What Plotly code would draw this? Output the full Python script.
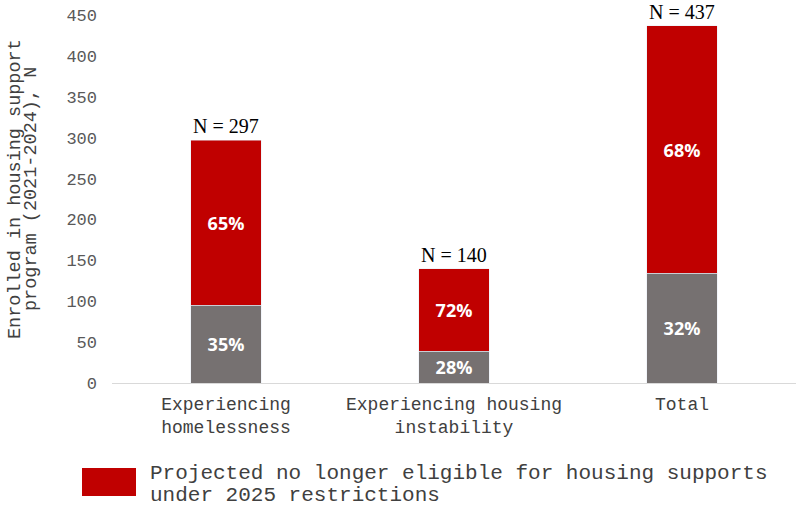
import plotly.graph_objects as go

categories = ["Experiencing homelessness", "Experiencing housing instability", "Total"]
tick_labels = ["Experiencing<br>homelessness", "Experiencing housing<br>instability", "Total"]
eligible = [95, 39, 134]          # grey segment (remaining eligible)
not_eligible = [202, 101, 303]    # red segment
totals = [297, 140, 437]
eligible_pct = ["35%", "28%", "32%"]
not_eligible_pct = ["65%", "72%", "68%"]
total_labels = ["N = 297", "N = 140", "N = 437"]
y_ticks = [0, 50, 100, 150, 200, 250, 300, 350, 400, 450]

RED = "#C00000"
GREY = "#767171"
MONO = "Liberation Mono, Courier New, monospace"
PCT_FONT = dict(family="Open Sans, sans-serif", size=18, color="white", weight="bold")

fig = go.Figure()
fig.add_trace(go.Bar(
    x=categories, y=eligible, marker_color=GREY, width=0.31,
    text=eligible_pct, textposition="inside", insidetextanchor="middle",
    textfont=PCT_FONT, constraintext="none", showlegend=False,
))
fig.add_trace(go.Bar(
    x=categories, y=not_eligible, marker_color=RED, width=0.31,
    text=not_eligible_pct, textposition="inside", insidetextanchor="middle",
    textfont=PCT_FONT, constraintext="none", showlegend=False,
))

for c, t, lab in zip(categories, totals, total_labels):
    fig.add_annotation(x=c, y=t, text=lab, showarrow=False, yanchor="bottom",
                       yshift=1, font=dict(family="Liberation Serif, Times New Roman, serif",
                                           size=20, color="black"))

# y-axis title (two lines), positioned in pixels relative to the plot area
PLOT_W, PLOT_H, L, T = 684, 368, 112, 15
title_y = (383 - 189) / PLOT_H
fig.add_annotation(xref="paper", yref="paper", x=(15 - L) / PLOT_W, y=title_y,
                   xanchor="center", yanchor="middle",
                   text="Enrolled in housing support", textangle=-90, showarrow=False,
                   font=dict(family=MONO, size=18.5, color="#404040"))
fig.add_annotation(xref="paper", yref="paper", x=(31 - L) / PLOT_W, y=title_y,
                   xanchor="center", yanchor="middle",
                   text="program (2021-2024), N", textangle=-90, showarrow=False,
                   font=dict(family=MONO, size=18.5, color="#404040"))

# legend drawn manually
fig.add_shape(type="rect", xref="paper", yref="paper",
              x0=(82 - L) / PLOT_W, x1=(136 - L) / PLOT_W,
              y0=(383 - 496) / PLOT_H, y1=(383 - 468) / PLOT_H,
              fillcolor=RED, line=dict(width=0))
fig.add_annotation(xref="paper", yref="paper", x=(148 - L) / PLOT_W, y=(383 - 473) / PLOT_H,
                   xanchor="left", yanchor="middle", showarrow=False,
                   text="Projected no longer eligible for housing supports",
                   font=dict(family=MONO, size=21, color="#404040"))
fig.add_annotation(xref="paper", yref="paper", x=(148 - L) / PLOT_W, y=(383 - 496) / PLOT_H,
                   xanchor="left", yanchor="middle", showarrow=False,
                   text="under 2025 restrictions",
                   font=dict(family=MONO, size=21, color="#404040"))

fig.update_layout(
    barmode="stack",
    width=800, height=507,
    margin=dict(l=L, r=4, t=T, b=124),
    plot_bgcolor="white", paper_bgcolor="white",
    bargap=0.69,
)
fig.update_xaxes(tickvals=categories, ticktext=tick_labels, showgrid=False,
                 showline=True, linecolor="#D9D9D9", linewidth=1, ticks="",
                 ticklabelstandoff=4,
                 tickfont=dict(family=MONO, size=18, color="#404040"))
fig.update_yaxes(range=[0, 450], tickvals=y_ticks, showgrid=False, zeroline=False,
                 showline=False, ticks="", ticklabelstandoff=14,
                 tickfont=dict(family=MONO, size=17, color="#595959"))

fig.write_html("out.html")
